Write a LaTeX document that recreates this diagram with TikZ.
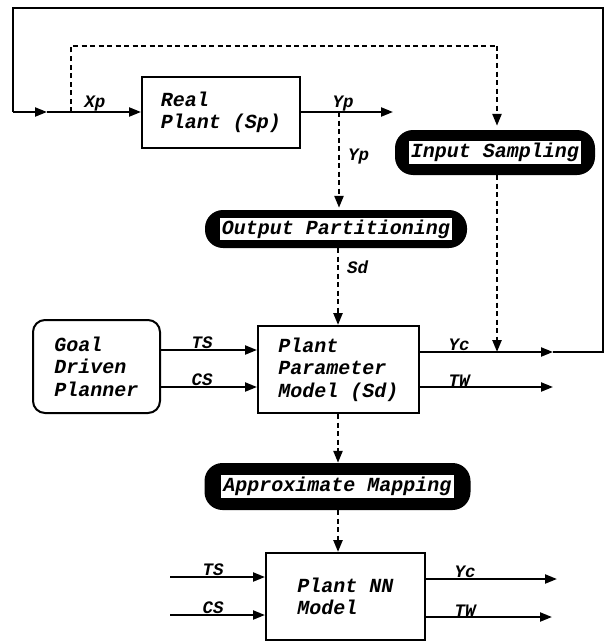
\documentclass[tikz,border=0pt]{standalone}
\usepackage{fontspec}
\setmonofont{Liberation Mono}
\usetikzlibrary{arrows.meta}
\begin{document}
\begin{tikzpicture}[x=1pt,y=-1pt,
  every node/.style={font=\fontsize{20}{22.5}\selectfont\ttfamily\bfseries\itshape},
  box/.style={draw, line width=2pt, align=left, inner sep=0pt},
  rbox/.style={box, rounded corners=12pt},
  pillout/.style={fill=black, rounded corners=18pt, inner sep=0pt},
  pillin/.style={fill=white, inner sep=2pt},
  arr/.style={line width=2.2pt, -{Triangle[length=12pt,width=9pt]}},
  sline/.style={line width=2.2pt},
  darr/.style={line width=2.4pt, dash pattern=on 5pt off 3.5pt, -{Triangle[length=12pt,width=9pt]}},
  dline/.style={line width=2.4pt, dash pattern=on 5pt off 3.5pt},
  lab/.style={font=\fontsize{17.5}{20}\selectfont\ttfamily\bfseries\itshape, inner sep=0.8pt, anchor=south}
]
\useasboundingbox (0,0) rectangle (605,642);

% boxes
\node[box, minimum width=158pt, minimum height=71pt] (rp) at (221,112.5) {Real\\Plant (Sp)};
\node[rbox, minimum width=127pt, minimum height=93pt] (gdp) at (96.5,366.5) {Goal\\Driven\\Planner};
\node[box, minimum width=161pt, minimum height=87pt] (ppm) at (338.5,369.5) {Plant\\Parameter\\Model (Sd)};
\node[box, minimum width=159pt, minimum height=87pt] (nn) at (345.5,596.5) {Plant NN\\Model};

% pills
\node[pillout, minimum width=200pt, minimum height=45pt] (isO) at (495,152.5) {};
\node[pillin] (is) at (isO) {Input Sampling};
\node[pillout, minimum width=262pt, minimum height=38pt] (opO) at (336,229) {};
\node[pillin] (op) at (opO) {Output Partitioning};
\node[pillout, minimum width=266pt, minimum height=47pt] (amO) at (337.5,486.5) {};
\node[pillin] (am) at (amO) {Approximate Mapping};

% coordinates
\coordinate (fbin) at (13,112);
\coordinate (fbmid) at (47,112);
\coordinate (fbtl) at (13,8);
\coordinate (fbtr) at (603,8);
\coordinate (fbbr) at (603,352);
\coordinate (xpbr) at (71,112);
\coordinate (dtl) at (71,46);
\coordinate (dtr) at (497,46);
\coordinate (yp1) at (339,112);
\coordinate (ypend) at (393,112);
\coordinate (ycend) at (553,352);
\coordinate (twend) at (553,387);
\coordinate (isjoin) at (497,352);
\coordinate (tsy) at (0,350);
\coordinate (csy) at (0,387);
\coordinate (spine) at (338,0);
\coordinate (nts) at (170,577);
\coordinate (ncs) at (170,615);
\coordinate (nyc) at (557,579);
\coordinate (ntw) at (552,617);

% feedback loop
\draw[sline] (ycend) -- (fbbr) -- (fbtr) -- (fbtl) -- (fbin);
\draw[arr] (fbin) -- (fbmid);
\draw[arr] (fbmid) -- (rp.west |- fbmid);
\draw[arr] (rp.east |- ypend) -- (ypend);

% dashed sampling path
\draw[dline] (xpbr) -- (dtl) -- (dtr);
\draw[darr, shorten >=4pt] (dtr) -- (dtr |- isO.north);
\draw[darr] (dtr |- isO.south) -- (isjoin);

% dashed vertical chain
\draw[darr, shorten >=2pt] (yp1) -- (yp1 |- opO.north);
\draw[darr] (spine |- opO.south) -- (spine |- ppm.north);
\draw[darr] (spine |- ppm.south) -- (spine |- amO.north);
\draw[darr] (spine |- amO.south) -- (spine |- nn.north);

% planner to model
\draw[arr] (gdp.east |- tsy) -- (ppm.west |- tsy);
\draw[arr] (gdp.east |- csy) -- (ppm.west |- csy);
\draw[arr] (ppm.east |- ycend) -- (ycend);
\draw[arr] (ppm.east |- twend) -- (twend);

% NN model
\draw[arr] (nts) -- (nn.west |- nts);
\draw[arr] (ncs) -- (nn.west |- ncs);
\draw[arr] (nn.east |- nyc) -- (nyc);
\draw[arr] (nn.east |- ntw) -- (ntw);

% labels
\node[lab] (lxp) at (95,112) {Xp};
\node[lab] (lyp) at (343,112) {Yp};
\node[lab, anchor=west] (lyp2) at (347,157) {Yp};
\node[lab, anchor=west] (lsd) at (346,267) {Sd};
\node[lab] (lts) at (202,350) {TS};
\node[lab] (lcs) at (202,387) {CS};
\node[lab] (lyc) at (459,352) {Yc};
\node[lab] (ltw) at (459,387) {TW};
\node[lab] (lts2) at (213,577) {TS};
\node[lab] (lcs2) at (213,615) {CS};
\node[lab] (lyc2) at (465,579) {Yc};
\node[lab] (ltw2) at (465,617) {TW};
\end{tikzpicture}
\end{document}
